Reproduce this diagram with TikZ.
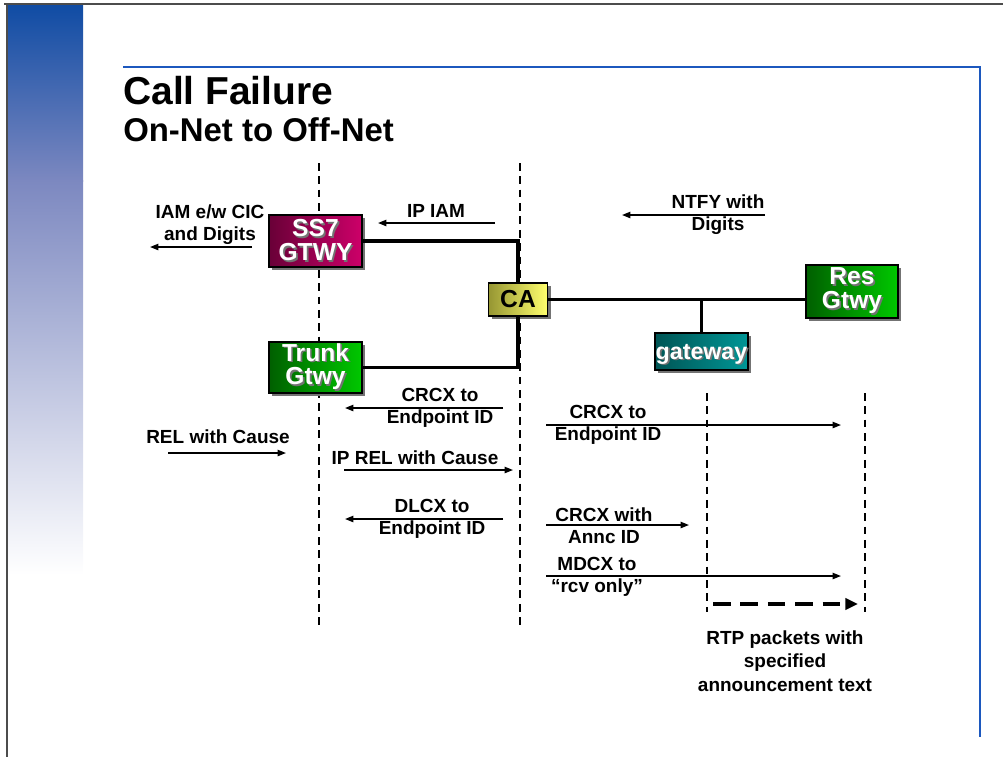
\documentclass[tikz,border=0pt]{standalone}
\usepackage{fontspec}
\setmainfont{Liberation Sans}
\usetikzlibrary{arrows.meta,shadows}
\definecolor{barblue}{RGB}{16,76,164}
\definecolor{barmid}{RGB}{124,136,192}
\definecolor{ruleblue}{RGB}{28,88,190}
\definecolor{ss7dark}{RGB}{105,0,55}
\definecolor{ss7light}{RGB}{205,0,105}
\definecolor{gwdark}{RGB}{0,95,0}
\definecolor{gwlight}{RGB}{0,200,0}
\definecolor{cadark}{RGB}{150,150,50}
\definecolor{calight}{RGB}{255,255,110}
\definecolor{tealdark}{RGB}{0,85,85}
\definecolor{teallight}{RGB}{0,150,150}
% text with a grey drop shadow, as on the gateway boxes
\newcommand{\shtxt}[1]{\rlap{\kern1.2pt\raisebox{-1.2pt}{\textcolor{black!55}{#1}}}#1}
\begin{document}
\begin{tikzpicture}[x=0.025cm,y=-0.025cm,>={Triangle[length=6pt,width=4.5pt]}]
        \tikzstyle{gtwy}=[draw=black,line width=1.3pt,text=white,align=center,inner sep=0pt,
          font=\bfseries\fontsize{17.5}{17}\selectfont,
          drop shadow={shadow xshift=2.2pt,shadow yshift=-2.2pt,fill=black!55,opacity=1}]
        \tikzstyle{msgtext}=[align=center,inner sep=0pt,font=\bfseries\fontsize{13.5}{15.5}\selectfont]
        \tikzstyle{msg}=[->,line width=1.1pt]
        \tikzstyle{life}=[line width=1.1pt,dash pattern=on 5.5pt off 4pt]
        \tikzstyle{link}=[line width=2.2pt]
        \useasboundingbox (0,0) rectangle (1003,757);
        % slide frame
        \shade[top color=barblue,bottom color=barmid] (8,5) rectangle (83,181);
        \shade[top color=barmid,bottom color=white] (8,180) rectangle (83,575);
        \draw[black!70,line width=1.1pt] (4,4) -- (1003,4);
        \draw[black!70,line width=1.1pt] (7,4) -- (7,757);
        \draw[ruleblue,line width=1.4pt] (123,67) -- (980,67) -- (980,737);
        \node[anchor=base west,inner sep=0pt,font=\bfseries\fontsize{27.7}{30}\selectfont] (title) at (123,104) {Call Failure};
        \node[anchor=base west,inner sep=0pt,font=\bfseries\fontsize{23.4}{26}\selectfont] (subtitle) at (123,141) {On-Net to Off-Net};
        % lifelines
        \coordinate (l1top) at (319,163); \coordinate (l1bot) at (319,627);
        \coordinate (l2top) at (520,163); \coordinate (l2bot) at (520,627);
        \coordinate (l3top) at (707,393); \coordinate (l3bot) at (707,612);
        \coordinate (l4top) at (865,393); \coordinate (l4bot) at (865,612);
        \draw[life] (l1top) -- (l1bot);
        \draw[life] (l2top) -- (l2bot);
        \draw[life] (l3top) -- (l3bot);
        \draw[life] (l4top) -- (l4bot);
        % network elements
        \node[gtwy,left color=ss7dark,right color=ss7light,minimum width=2.325cm,minimum height=1.3cm] (ss7) at (315.5,241) {\shtxt{SS7}\\\shtxt{GTWY}};
        \node[gtwy,left color=gwdark,right color=gwlight,minimum width=2.325cm,minimum height=1.275cm] (trunk) at (315.5,367.5) {\shtxt{Trunk}\\\shtxt{Gtwy}};
        \node[gtwy,text=black,left color=cadark,right color=calight,minimum width=1.475cm,minimum height=0.825cm] (ca) at (518,299.5) {CA};
        \node[gtwy,left color=gwdark,right color=gwlight,minimum width=2.3cm,minimum height=1.325cm] (res) at (852,291.5) {\shtxt{Res}\\\shtxt{Gtwy}};
        \node[gtwy,font=\bfseries\fontsize{16.5}{16}\selectfont,text depth=0pt,left color=tealdark,right color=teallight,minimum width=2.325cm,minimum height=0.925cm] (gw) at (701.5,351.5) {\shtxt{gateway}};
        \draw[link] (ss7.east) -| (ca.north);
        \draw[link] (trunk.east) -| (ca.south);
        \draw[link] (ca.east) -- (ca.east -| res.west);
        \draw[link] (gw.north) -- (gw.north |- ca.east);
        % messages
        \node[msgtext] (iamtxt) at (210,225) {IAM e/w CIC\\and Digits};
        \coordinate (iamA) at (252,247); \coordinate (iamB) at (150,247);
        \draw[msg] (iamA) -- (iamB);
        \node[msgtext] (ipiamtxt) at (436,211) {IP IAM};
        \coordinate (ipiamA) at (495,223); \coordinate (ipiamB) at (378,223);
        \draw[msg] (ipiamA) -- (ipiamB);
        \node[msgtext] (ntfytxt) at (718,215) {NTFY with\\Digits};
        \coordinate (ntfyA) at (765,215); \coordinate (ntfyB) at (622,215);
        \draw[msg] (ntfyA) -- (ntfyB);
        \node[msgtext] (crcx1txt) at (440,408) {CRCX to\\Endpoint ID};
        \coordinate (crcx1A) at (503,408); \coordinate (crcx1B) at (345,408);
        \draw[msg] (crcx1A) -- (crcx1B);
        \node[msgtext] (reltxt) at (218,437) {REL with Cause};
        \coordinate (relA) at (168,453); \coordinate (relB) at (286,453);
        \draw[msg] (relA) -- (relB);
        \node[msgtext] (ipreltxt) at (415,458) {IP REL with Cause};
        \coordinate (iprelA) at (344,470); \coordinate (iprelB) at (513,470);
        \draw[msg] (iprelA) -- (iprelB);
        \node[msgtext] (dlcxtxt) at (432,519) {DLCX to\\Endpoint ID};
        \coordinate (dlcxA) at (503,519); \coordinate (dlcxB) at (345,519);
        \draw[msg] (dlcxA) -- (dlcxB);
        \node[msgtext] (crcx2txt) at (608,425) {CRCX to\\Endpoint ID};
        \coordinate (crcx2A) at (546,425); \coordinate (crcx2B) at (841,425);
        \draw[msg] (crcx2A) -- (crcx2B);
        \node[msgtext] (crcx3txt) at (604,526) {CRCX with\\Annc ID};
        \coordinate (crcx3A) at (546,525); \coordinate (crcx3B) at (689,525);
        \draw[msg] (crcx3A) -- (crcx3B);
        \node[msgtext] (mdcxtxt) at (597,577) {MDCX to\\“rcv only”};
        \coordinate (mdcxA) at (546,576); \coordinate (mdcxB) at (841,576);
        \draw[msg] (mdcxA) -- (mdcxB);
        \coordinate (rtpA) at (713,604); \coordinate (rtpB) at (858,604);
        \draw[line width=2.6pt,dash pattern=on 12.5pt off 7pt,-{Triangle[length=9pt,width=8pt]}] (rtpA) -- (rtpB);
        \node[msgtext,font=\bfseries\fontsize{13.5}{16.7}\selectfont] (rtptxt) at (785,661) {RTP packets with\\specified\\announcement text};
\end{tikzpicture}
\end{document}
